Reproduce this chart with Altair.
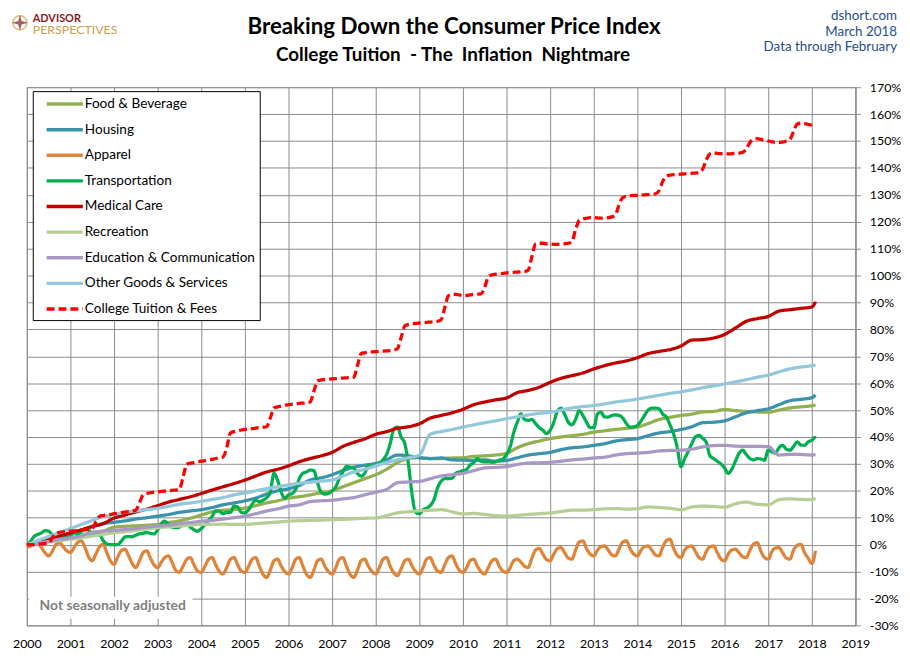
import altair as alt
import pandas as pd

# ---------------- data ----------------
series_names = [
    "Food & Beverage", "Housing", "Apparel", "Transportation", "Medical Care",
    "Recreation", "Education & Communication", "Other Goods & Services",
    "College Tuition & Fees",
]
series_colors = [
    "#93B04E", "#3A92AB", "#E0843A", "#00B050", "#C00000",
    "#B7CF94", "#A898C6", "#93C7DB", "#FF0000",
]

# quarterly readings (Jan, Apr, Jul, Oct of 2000..2017, then Jan & Feb 2018)
food = [
    0.0, 0.6, 1.2, 1.8,   2.6, 3.5, 4.5, 5.0,   6.5, 6.8, 7.0, 7.2,
    7.5, 8.2, 8.8, 9.8,   11.0, 12.2, 12.8, 13.0,   13.6, 14.5, 15.5, 16.3,
    17.3, 17.8, 18.5, 19.3,   20.0, 21.5, 23.0, 24.5,   26.0, 28.0, 30.5, 32.0,
    32.3, 32.0, 32.0, 32.2,   32.3, 32.8, 33.0, 33.3,   33.9, 36.0, 37.5, 38.5,
    39.4, 40.0, 40.5, 41.0,   41.8, 42.3, 42.8, 43.2,   43.7, 45.0, 46.5, 47.3,
    48.0, 48.5, 49.3, 49.5,   50.2, 49.8, 49.5, 49.3,   49.2, 50.0, 50.8, 51.2,
    51.6, 51.9,
]
housing = [
    0.0, 1.0, 2.2, 3.0,   4.0, 5.3, 6.8, 7.8,   8.3, 8.8, 9.5, 10.0,
    10.6, 11.2, 12.0, 12.5,   13.0, 13.8, 14.8, 15.5,   16.3, 17.3, 18.8, 20.0,
    20.8, 22.0, 24.0, 24.8,   26.0, 27.5, 28.8, 29.5,   30.2, 31.5, 33.3, 33.0,
    32.3, 32.0, 32.2, 31.5,   31.4, 31.3, 31.5, 31.0,   31.3, 32.3, 33.3, 33.8,
    34.3, 35.3, 36.0, 36.3,   36.9, 37.5, 38.5, 39.0,   39.4, 40.5, 41.5, 42.0,
    42.8, 43.8, 45.3, 45.5,   46.0, 47.5, 49.0, 49.8,   50.5, 52.0, 53.5, 54.0,
    54.6, 55.6,
]
medical = [
    0.0, 1.1, 2.2, 3.2,   4.4, 5.5, 6.7, 7.8,   9.9, 11.0, 12.2, 13.2,
    14.5, 15.8, 16.8, 17.8,   19.0, 20.3, 21.5, 22.7,   24.0, 25.5, 27.0, 28.0,
    29.3, 30.8, 32.0, 33.0,   34.3, 36.5, 38.0, 39.3,   41.0, 42.0, 43.2, 43.8,
    44.9, 47.0, 48.0, 49.0,   50.3, 52.0, 53.0, 53.8,   54.5, 56.5, 57.3, 58.5,
    60.3, 61.8, 62.8, 63.8,   65.3, 66.5, 67.5, 68.3,   69.5, 71.0, 71.8, 72.5,
    73.8, 76.0, 76.2, 76.8,   78.1, 80.5, 83.0, 84.0,   84.8, 86.8, 87.3, 87.8,
    88.3, 90.3,
]
recreation = [
    0.0, 0.5, 1.0, 1.5,   2.0, 2.5, 3.2, 3.8,   4.4, 4.8, 5.3, 5.8,
    6.3, 6.6, 6.9, 7.2,   7.5, 7.5, 7.6, 7.5,   7.5, 7.8, 8.1, 8.4,
    8.7, 8.9, 9.0, 9.1,   9.3, 9.4, 9.6, 9.8,   9.9, 10.8, 11.8, 12.2,
    12.6, 12.7, 13.0, 12.2,   11.4, 11.6, 11.2, 10.8,   10.6, 10.9, 11.2, 11.5,
    11.8, 12.3, 12.8, 12.8,   13.0, 13.3, 13.4, 13.2,   13.4, 14.0, 13.8, 13.5,
    13.0, 14.0, 14.3, 14.2,   13.9, 15.2, 15.8, 15.0,   14.8, 16.7, 17.0, 16.8,
    16.7, 17.3,
]
education = [
    0.0, 0.5, 1.2, 2.0,   2.5, 3.3, 4.5, 5.0,   5.3, 5.6, 6.0, 6.5,
    6.9, 7.2, 7.8, 8.2,   8.7, 9.0, 9.5, 10.0,   10.6, 11.5, 12.5, 13.3,
    14.3, 14.8, 16.0, 16.3,   16.5, 17.0, 17.5, 18.5,   19.5, 20.5, 23.0, 23.3,
    23.5, 24.5, 25.5, 26.0,   26.5, 27.5, 28.5, 28.7,   29.0, 29.8, 30.3, 30.4,
    30.6, 31.0, 31.5, 31.8,   32.2, 32.5, 33.3, 33.8,   34.0, 34.3, 34.8, 35.0,
    35.1, 35.5, 36.3, 36.8,   36.9, 36.6, 36.5, 36.5,   36.4, 33.3, 33.5, 33.5,
    33.3, 33.5,
]
other_goods = [
    0.0, 1.5, 3.0, 4.5,   6.0, 7.5, 9.0, 10.5,   11.2, 12.0, 12.5, 13.0,
    13.5, 14.2, 15.0, 15.5,   16.1, 16.8, 17.5, 18.5,   19.2, 20.0, 20.8, 21.5,
    22.2, 22.8, 23.2, 23.6,   24.0, 25.5, 27.0, 28.0,   29.3, 30.5, 31.5, 32.3,
    33.3, 41.0, 42.0, 42.8,   43.7, 44.5, 45.3, 46.0,   46.8, 47.5, 48.2, 48.8,
    49.2, 50.0, 50.8, 51.3,   51.7, 52.3, 53.0, 53.5,   54.1, 54.8, 55.5, 56.2,
    56.8, 57.5, 58.3, 59.0,   59.7, 60.5, 61.3, 62.2,   63.0, 64.2, 65.3, 66.0,
    66.5, 66.8,
]

# monthly readings (Jan 2000 .. Feb 2018)
apparel = [
    -1.0, -0.5, 0.3, 0.7, -1.0, -3.0, -4.2, -2.5, 0.0, 0.7, -0.8, -2.3,
    -2.9, -1.0, 0.8, 1.4, -1.0, -4.5, -6.0, -3.5, -0.8, 0.1, -3.0, -6.0,
    -7.3, -4.5, -2.3, -1.7, -4.0, -7.0, -8.5, -6.0, -3.0, -2.3, -5.0, -7.5,
    -8.5, -6.5, -4.8, -4.2, -6.5, -9.5, -10.3, -8.0, -5.5, -4.8, -7.5, -9.8,
    -10.3, -8.0, -5.5, -4.8, -7.5, -10.0, -10.9, -8.5, -5.5, -4.8, -7.5, -9.8,
    -10.3, -8.0, -5.5, -4.8, -8.0, -11.0, -12.2, -9.5, -6.0, -5.4, -8.0, -10.0,
    -10.9, -8.5, -5.5, -4.8, -8.0, -11.0, -12.2, -9.5, -6.0, -5.4, -8.0, -10.0,
    -10.9, -8.5, -5.5, -4.8, -8.0, -11.0, -12.2, -9.5, -6.0, -5.4, -8.0, -10.0,
    -10.9, -8.5, -5.5, -4.8, -8.0, -10.5, -11.5, -9.0, -6.0, -5.4, -8.0, -10.0,
    -10.9, -8.5, -5.5, -4.8, -7.5, -9.8, -10.3, -7.5, -4.8, -4.2, -7.0, -9.5,
    -10.3, -8.5, -6.0, -5.4, -8.0, -10.0, -10.9, -8.5, -6.0, -5.4, -8.0, -9.8,
    -10.3, -8.5, -6.0, -5.4, -6.5, -8.0, -8.5, -5.0, -2.0, -1.4, -3.5, -5.5,
    -6.0, -3.5, -1.5, -1.1, -3.0, -5.0, -5.4, -2.0, 1.0, 1.4, -1.5, -3.5,
    -4.2, -2.0, -0.8, -0.5, -2.0, -3.8, -4.2, -1.5, 1.0, 1.4, -1.5, -3.5,
    -4.2, -2.0, -0.8, -0.5, -2.0, -3.8, -4.2, -1.0, 1.5, 2.0, -1.5, -4.0,
    -4.8, -2.0, -0.8, -0.5, -2.5, -4.8, -5.4, -2.5, -0.8, -0.5, -3.0, -5.3,
    -6.0, -3.5, -2.0, -1.7, -3.0, -4.5, -4.8, -2.0, 0.3, 0.7, -2.5, -4.8,
    -5.4, -2.5, -1.3, -1.1, -3.0, -5.0, -5.4, -2.0, -0.3, 0.1, -3.0, -5.0,
    -7.0, -2.3,
]
transportation = [
    0.0, 1.2, 3.0, 3.8, 4.3, 5.2, 5.0, 3.8, 3.3, 3.5, 3.0, 2.8,
    3.5, 4.5, 4.0, 4.8, 6.0, 5.5, 4.0, 3.5, 3.8, 1.5, 0.3, 0.0,
    0.0, 0.0, 1.2, 2.8, 3.0, 3.0, 3.5, 4.0, 4.2, 4.5, 4.2, 4.0,
    5.5, 7.8, 8.7, 7.5, 6.5, 6.3, 6.5, 7.5, 7.8, 6.5, 5.5, 5.0,
    6.0, 7.5, 9.0, 10.5, 12.5, 12.4, 11.5, 12.0, 12.0, 14.3, 14.0, 12.0,
    11.8, 13.0, 15.0, 16.5, 16.0, 16.5, 17.5, 19.5, 26.5, 24.0, 19.5, 17.3,
    18.5, 19.0, 20.5, 24.5, 26.5, 27.0, 27.7, 27.5, 23.0, 19.5, 18.8, 19.0,
    20.0, 21.5, 24.5, 27.0, 29.0, 28.8, 28.4, 26.5, 25.5, 26.5, 29.5, 29.0,
    29.5, 30.0, 31.5, 33.5, 37.5, 43.0, 43.7, 40.0, 37.5, 30.0, 18.5, 12.0,
    11.5, 13.0, 13.5, 14.5, 16.5, 21.0, 23.5, 24.5, 24.5, 24.7, 26.5, 27.0,
    27.5, 28.0, 29.5, 30.5, 32.0, 31.0, 30.8, 30.8, 30.6, 30.8, 31.4, 31.8,
    33.5, 36.5, 41.5, 45.5, 48.6, 46.5, 46.2, 46.5, 45.0, 43.5, 42.5, 41.3,
    42.5, 45.5, 49.5, 50.7, 48.5, 45.5, 44.5, 46.5, 49.8, 48.0, 45.5, 43.5,
    43.5, 48.6, 49.2, 47.5, 47.4, 48.0, 48.2, 48.0, 47.0, 45.0, 43.7, 43.8,
    44.3, 46.0, 48.0, 50.0, 50.7, 50.7, 50.5, 48.5, 47.4, 44.5, 41.0, 36.0,
    29.0, 32.0, 34.5, 37.5, 40.0, 40.6, 39.5, 38.0, 33.0, 32.0, 31.0, 30.0,
    28.5, 26.5, 28.0, 31.0, 33.9, 35.1, 33.5, 32.0, 31.5, 32.0, 31.8, 31.4,
    35.1, 34.5, 34.0, 36.0, 36.9, 35.5, 35.1, 36.5, 38.2, 37.0, 36.9, 38.2,
    38.8, 40.4,
]
tuition = [
    0.0, 0.0, 0.0, 0.2, 0.3, 0.4, 0.5, 2.5, 4.3, 4.6, 4.7, 4.8,
    5.0, 5.1, 5.2, 5.4, 5.5, 5.7, 6.0, 8.5, 10.5, 10.8, 11.0, 11.2,
    11.5, 11.7, 11.9, 12.1, 12.3, 12.5, 12.8, 15.5, 18.5, 19.0, 19.3, 19.5,
    19.6, 19.8, 19.9, 20.0, 20.2, 20.3, 20.5, 25.0, 29.8, 30.3, 30.5, 30.8,
    31.0, 31.2, 31.5, 31.7, 32.0, 32.3, 32.6, 36.0, 41.5, 42.0, 42.3, 42.6,
    42.8, 43.0, 43.1, 43.3, 43.5, 43.6, 43.8, 47.0, 50.8, 51.2, 51.5, 51.8,
    52.0, 52.2, 52.3, 52.5, 52.6, 52.8, 53.0, 57.0, 60.8, 61.2, 61.4, 61.5,
    61.6, 61.7, 61.8, 61.9, 62.0, 62.1, 62.2, 66.5, 71.0, 71.3, 71.5, 71.6,
    71.7, 71.8, 71.9, 72.0, 72.1, 72.3, 72.8, 77.0, 81.3, 81.8, 82.0, 82.2,
    82.4, 82.5, 82.6, 82.7, 82.8, 83.0, 83.5, 88.0, 92.5, 93.0, 93.0, 92.8,
    92.5, 92.6, 92.8, 93.0, 93.1, 93.2, 95.5, 99.5, 100.3, 100.5, 100.7, 100.8,
    101.0, 101.1, 101.2, 101.3, 101.4, 101.5, 102.0, 107.0, 111.8, 112.0, 112.0, 111.8,
    111.7, 111.6, 111.6, 111.7, 111.8, 112.0, 112.5, 117.0, 120.5, 121.0, 121.3, 121.5,
    121.5, 121.4, 121.3, 121.4, 121.5, 121.8, 122.5, 126.5, 129.0, 129.5, 129.7, 129.8,
    129.8, 130.0, 130.0, 130.1, 130.2, 130.4, 131.5, 135.0, 137.0, 137.3, 137.5, 137.6,
    137.7, 137.8, 137.9, 138.0, 138.1, 138.3, 139.5, 143.0, 145.3, 145.6, 145.4, 145.3,
    145.2, 145.2, 145.3, 145.4, 145.5, 145.8, 147.0, 149.5, 150.7, 150.9, 150.6, 150.3,
    150.0, 149.7, 149.5, 149.5, 149.6, 150.0, 150.6, 153.5, 156.3, 156.6, 156.5, 156.2,
    155.8, 155.4,
]

x_year_ticks = list(range(2000, 2020))
y_ticks = list(range(-30, 171, 10))

# ---------------- table ----------------
monthly_dates = [d.strftime("%Y-%m-%d") for d in pd.date_range("2000-01-01", "2018-02-01", freq="MS")]
quarter_dates = [d.strftime("%Y-%m-%d") for d in pd.date_range("2000-01-01", "2018-01-01", freq="QS")] + ["2018-02-01"]

series_values = {
    "Food & Beverage": (quarter_dates, food),
    "Housing": (quarter_dates, housing),
    "Apparel": (monthly_dates, apparel),
    "Transportation": (monthly_dates, transportation),
    "Medical Care": (quarter_dates, medical),
    "Recreation": (quarter_dates, recreation),
    "Education & Communication": (quarter_dates, education),
    "Other Goods & Services": (quarter_dates, other_goods),
    "College Tuition & Fees": (monthly_dates, tuition),
}
rows = []
for name in series_names:
    dates, vals = series_values[name]
    assert len(dates) == len(vals), (name, len(dates), len(vals))
    for d, v in zip(dates, vals):
        rows.append({"date": d, "value": v, "series": name})
df = pd.DataFrame(rows)

FONT = "Lato"
GRID = "#8C8C8C"

x_enc = alt.X(
    "date:T",
    scale=alt.Scale(type="utc",
                    domain=[alt.DateTime(year=2000, month=1, date=1, utc=True),
                            alt.DateTime(year=2019, month=1, date=1, utc=True)]),
    axis=alt.Axis(
        title=None, orient="bottom",
        values=[alt.DateTime(year=y, month=1, date=1, utc=True) for y in x_year_ticks],
        tickCount=30,
        labelExpr="utcFormat(datum.value, '%Y')",
        grid=True, gridColor=GRID, gridWidth=1,
        domain=False, ticks=False,
        labelPadding=12, labelFontSize=12.5, labelColor="#000000", labelFont=FONT,
        labelFlush=False, labelOverlap=False,
    ),
)
y_enc = alt.Y(
    "value:Q",
    scale=alt.Scale(domain=[-30, 170], nice=False, zero=False),
    axis=alt.Axis(
        title=None, orient="right", values=y_ticks, tickCount=30,
        labelExpr="datum.value + '%'",
        grid=True, gridColor=GRID, gridWidth=1,
        domainColor=GRID, tickColor=GRID, tickSize=5,
        labelAlign="left", labelPadding=9, labelFontSize=12.5, labelColor="#000000",
        labelFont=FONT, labelOverlap=False, labelFlush=False,
    ),
)

legend = alt.Legend(
    title=None, orient="none", legendX=6, legendY=4,
    fillColor="#FFFFFF", strokeColor="#000000",
    padding=4, symbolType="M0.14,0L5.36,0", symbolStrokeWidth=3.5, symbolSize=196,
    labelFontSize=13.7, labelFont=FONT, labelColor="#000000", labelOffset=30.5,
    rowPadding=9.85, labelLimit=300,
)

lines = alt.Chart(df).mark_line(strokeWidth=3.3, interpolate="monotone").encode(
    x=x_enc,
    y=y_enc,
    color=alt.Color("series:N", scale=alt.Scale(domain=series_names, range=series_colors),
                    legend=legend),
    strokeDash=alt.StrokeDash("series:N",
                              scale=alt.Scale(domain=series_names,
                                              range=[[1, 0]] * 8 + [[8, 4]]),
                              legend=legend),
)

# "Not seasonally adjusted" note box (placed in data space)
note_df = pd.DataFrame({"x0": ["2000-01-20"], "x1": ["2003-10-20"], "y0": [-19.4], "y1": [-27.5],
                        "xc": ["2001-12-20"], "yc": [-22.9], "t": ["Not seasonally adjusted"]})
note_box = alt.Chart(note_df).mark_rect(fill="#FFFFFF").encode(
    x=alt.X("x0:T"), x2="x1:T", y="y0:Q", y2="y1:Q")
note_text = alt.Chart(note_df).mark_text(fontSize=14, fontWeight="bold", color="#7F7F7F",
                                         font=FONT, align="center", baseline="middle").encode(
    x=alt.X("xc:T"), y="yc:Q", text="t:N")

def label(txt, x, y, size, color="#000000", weight="normal", align="center", baseline="middle"):
    return alt.Chart(pd.DataFrame({"t": [txt]})).mark_text(
        fontSize=size, fontWeight=weight, color=color, font=FONT, align=align,
        baseline=baseline).encode(x=alt.value(x), y=alt.value(y), text="t:N")

title1 = label("Breaking Down the Consumer Price Index", 431, -61, 22.5, weight="bold")
title2 = label("College Tuition\u00a0 - The\u00a0 Inflation\u00a0 Nightmare", 430, -32, 19, weight="bold")
src1 = label("dshort.com", 878, -71.5, 13.5, color="#1F4E8C", align="right")
src2 = label("March 2018", 878, -56, 13.5, color="#1F4E8C", align="right")
src3 = label("Data through February", 878, -40.5, 13.5, color="#1F4E8C", align="right")
logo1 = label("ADVISOR", 6, -66, 11, color="#8B1A1A", weight="bold", align="left",
              baseline="alphabetic")
logo2 = label("PERSPECTIVES", 6, -53.5, 12.5, color="#C9A04C", align="left",
              baseline="alphabetic")

ring = alt.Chart(pd.DataFrame({"k": [0]})).mark_point(
    shape="circle", size=200, filled=False, stroke="#C9A04C", strokeWidth=1.5).encode(
    x=alt.value(-7), y=alt.value(-65))
star = alt.Chart(pd.DataFrame({"k": [0]})).mark_point(
    shape="M0,-1L0.22,-0.22L1,0L0.22,0.22L0,1L-0.22,0.22L-1,0L-0.22,-0.22Z",
    size=260, filled=True, fill="#8B1A1A", strokeWidth=0).encode(
    x=alt.value(-7), y=alt.value(-65))

chart = alt.layer(
    lines, note_box, note_text, title1, title2, src1, src2, src3, logo1, logo2, ring, star
).properties(
    width=836, height=543,
    autosize=alt.AutoSizeParams(type="none"),
    padding={"left": 19, "top": 77, "right": 47, "bottom": 25},
    background="#FFFFFF",
).configure_view(
    stroke=GRID, strokeWidth=1,
).configure_text(font=FONT)

chart.save("out.html", embed_options={"renderer": "svg", "actions": False})
